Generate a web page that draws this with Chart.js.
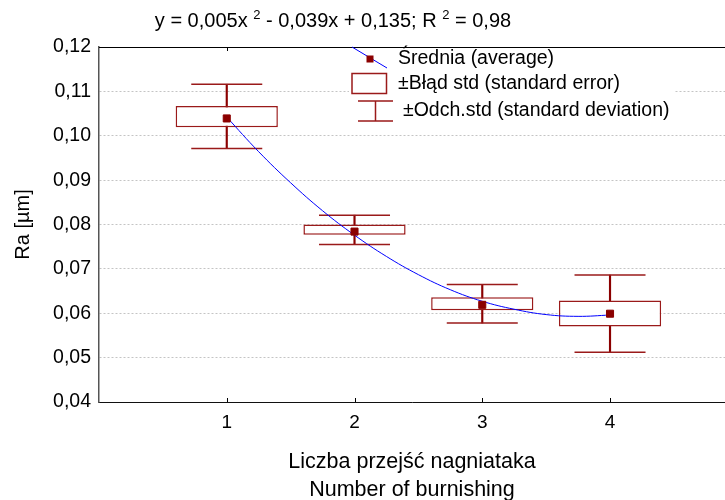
<!DOCTYPE html>
<html><head><meta charset="utf-8">
<script src="https://cdn.jsdelivr.net/npm/chart.js@4.4.0/dist/chart.umd.min.js"></script>
<style>html,body{margin:0;padding:0;background:#fff;}canvas{display:block;}</style>
</head><body>
<canvas id="c" width="725" height="500"></canvas>
<script>
// ---- data ----
const categories = [1, 2, 3, 4];
const means  = [0.1039, 0.0784, 0.0619, 0.0599];
const seLow  = [0.1019, 0.0777, 0.0607, 0.0570];
const seHigh = [0.1067, 0.0800, 0.0636, 0.0629];
const sdLow  = [0.0971, 0.0755, 0.0578, 0.0512];
const sdHigh = [0.1116, 0.0821, 0.0665, 0.0686];
// fitted curve
const fitX = [1.00, 1.25, 1.50, 1.75, 2.00, 2.25, 2.50, 2.75, 3.00, 3.25, 3.50, 3.75, 4.00];
const fitY = [0.1042, 0.0964, 0.0894, 0.0831, 0.0776, 0.0728, 0.0687, 0.0653, 0.0627, 0.0609, 0.0597, 0.0593, 0.0596];
const xTicks = [1, 2, 3, 4];
const yTicks = [0.04, 0.05, 0.06, 0.07, 0.08, 0.09, 0.10, 0.11, 0.12];
const titleParts = [['y = 0,005x ', false], ['2', true], [' - 0,039x + 0,135; R ', false], ['2', true], [' = 0,98', false]];
const legendLabels = ['Średnia (average)', '±Błąd std (standard error)', '±Odch.std (standard deviation)'];
const xAxisTitle = ['Liczba przejść nagniataka', 'Number of burnishing'];
const yAxisTitle = 'Ra [µm]';

const FONT = "'Liberation Sans', Arial, sans-serif";
const RED = '#8b0000';
const BOXRED = '#9a1a1a';

const decor = {
  id: 'decor',
  afterDraw(chart) {
    const {ctx, chartArea: a, scales: {x}} = chart;
    ctx.save();
    // top frame line + inward ticks
    ctx.strokeStyle = '#000'; ctx.lineWidth = 1;
    ctx.beginPath();
    const ty = Math.round(a.top) + 0.5;
    ctx.moveTo(a.left, ty); ctx.lineTo(a.right, ty);
    xTicks.forEach(v => {
      const px = Math.round(x.getPixelForValue(v)) + 0.5;
      ctx.moveTo(px, a.top); ctx.lineTo(px, a.top + 4);
      ctx.moveTo(px, a.bottom); ctx.lineTo(px, a.bottom - 4);
    });
    ctx.stroke();

    // title with superscripts
    const big = '20px ' + FONT, small = '13px ' + FONT;
    let total = 0;
    titleParts.forEach(([t, sup]) => { ctx.font = sup ? small : big; total += ctx.measureText(t).width; });
    let tx = 333 - total / 2;
    ctx.fillStyle = '#000'; ctx.textBaseline = 'middle'; ctx.textAlign = 'left';
    titleParts.forEach(([t, sup]) => {
      ctx.font = sup ? small : big;
      ctx.fillText(t, tx, sup ? 15 : 21);
      tx += ctx.measureText(t).width;
    });

    // legend (overlay, white background)
    const lx = 349;
    ctx.fillStyle = '#fff';
    ctx.fillRect(lx, a.top + 1, 326, 78);
    // row 1: line + mean marker
    ctx.strokeStyle = '#0000ff'; ctx.lineWidth = 1;
    ctx.beginPath(); ctx.moveTo(352, a.top); ctx.lineTo(387, 68); ctx.stroke();
    ctx.fillStyle = RED; ctx.fillRect(366.5, 55.5, 7, 7);
    // row 2: box
    ctx.strokeStyle = BOXRED; ctx.lineWidth = 1.5;
    ctx.strokeRect(352, 73.5, 34.5, 20);
    // row 3: whisker
    ctx.beginPath();
    ctx.moveTo(358, 101); ctx.lineTo(393, 101);
    ctx.moveTo(358, 121); ctx.lineTo(393, 121);
    ctx.moveTo(375.5, 101); ctx.lineTo(375.5, 121);
    ctx.stroke();
    ctx.fillStyle = '#000'; ctx.font = '19.5px ' + FONT; ctx.textBaseline = 'middle';
    ctx.fillText(legendLabels[0], 398, 59);
    ctx.fillText(legendLabels[1], 398, 84);
    ctx.fillText(legendLabels[2], 403, 111);
    ctx.restore();
  }
};

const pts = (xs, ys) => xs.map((v, i) => ({x: v, y: ys[i]}));

new Chart(document.getElementById('c'), {
  type: 'bar',
  data: {
    datasets: [
      { type: 'scatter', label: 'mean', data: pts(categories, means), pointStyle: 'rect', pointRadius: 5,
        backgroundColor: RED, borderColor: RED, borderWidth: 1, order: 0 },
      { type: 'line', label: 'fit', data: pts(fitX, fitY), borderColor: '#0000ff', borderWidth: 1,
        pointRadius: 0, tension: 0.4, fill: false, order: 1 },
      { type: 'scatter', label: 'sdHighCap', data: pts(categories, sdHigh), pointStyle: 'line', pointRadius: 35.5,
        borderColor: BOXRED, borderWidth: 1.5, order: 2 },
      { type: 'scatter', label: 'sdLowCap', data: pts(categories, sdLow), pointStyle: 'line', pointRadius: 35.5,
        borderColor: BOXRED, borderWidth: 1.5, order: 2 },
      { type: 'bar', label: 'se', data: categories.map((c, i) => ({x: c, y: [seLow[i], seHigh[i]]})),
        backgroundColor: '#fff', borderColor: BOXRED, borderWidth: 1.5, borderSkipped: false,
        grouped: false, barPercentage: 0.8, categoryPercentage: 1, order: 3 },
      { type: 'bar', label: 'sd', data: categories.map((c, i) => ({x: c, y: [sdLow[i], sdHigh[i]]})),
        backgroundColor: RED, borderWidth: 0, grouped: false, barThickness: 1.5, order: 4 }
    ]
  },
  options: {
    responsive: false, animation: false, devicePixelRatio: 1,
    layout: { autoPadding: false, padding: { top: 47, right: 0, left: 0, bottom: 0 } },
    plugins: { legend: { display: false }, tooltip: { enabled: false }, title: { display: false } },
    scales: {
      x: {
        type: 'linear', min: 0, max: 4.9, offset: false,
        afterBuildTicks: s => { s.ticks = xTicks.map(v => ({value: v})); },
        afterFit: s => { s.height = 98; },
        grid: { display: false },
        border: { display: true, color: '#111', width: 1 },
        ticks: { color: '#000', font: { family: FONT, size: 19 }, padding: 1, maxRotation: 0,
                 callback: v => String(v) },
        title: { display: true, text: xAxisTitle, color: '#000',
                 font: { family: FONT, size: 21.5, lineHeight: '28px' }, padding: { top: 0, bottom: -4 } }
      },
      y: {
        type: 'linear', min: 0.04, max: 0.12,
        afterBuildTicks: s => { s.ticks = yTicks.map(v => ({value: v})); },
        afterFit: s => { s.width = 99; },
        grid: { color: '#c4c4c4', lineWidth: 1, drawTicks: false },
        border: { display: true, color: '#555', width: 1.5, dash: [2, 2] },
        ticks: { color: '#000', font: { family: FONT, size: 19.5 }, padding: 8,
                 callback: v => v.toFixed(2).replace('.', ',') },
        title: { display: true, text: yAxisTitle, color: '#000',
                 font: { family: FONT, size: 20 }, padding: { top: 11, bottom: 0 } }
      }
    }
  },
  plugins: [decor]
});
</script>
</body></html>
